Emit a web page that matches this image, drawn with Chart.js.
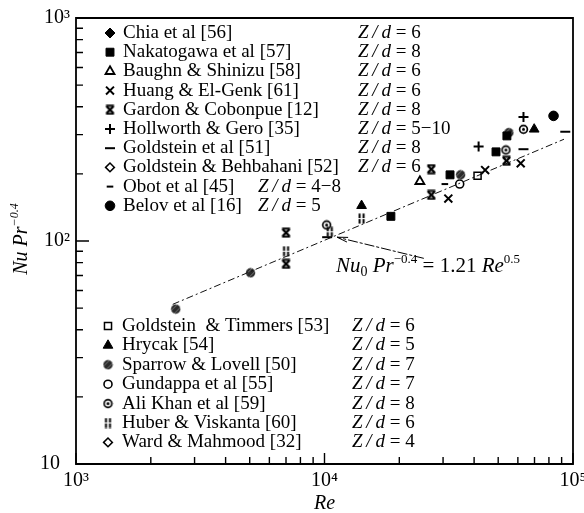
<!DOCTYPE html>
<html>
<head>
<meta charset="utf-8">
<script src="https://cdn.jsdelivr.net/npm/chart.js@4.4.1/dist/chart.umd.min.js"></script>
<style>
  html, body { margin: 0; padding: 0; background: #fff; }
  #chart { display: block; }
</style>
</head>
<body>
<canvas id="chart" width="584" height="513"></canvas>
<script>
const SERIF = '"Liberation Serif", "Times New Roman", "DejaVu Serif", serif';

// Axis ticks (log decades, minor ticks at 2..9)
const xTickValues = [1000, 2000, 3000, 4000, 5000, 6000, 7000, 8000, 9000,
  10000, 20000, 30000, 40000, 50000, 60000, 70000, 80000, 90000, 100000];
const xMajorTicks = [1000, 10000, 100000];
const xMajorLabels = ['10³', '10⁴', '10⁵'];
const yTickValues = [10, 20, 30, 40, 50, 60, 70, 80, 90,
  100, 200, 300, 400, 500, 600, 700, 800, 900, 1000];
const yMajorTicks = [10, 100, 1000];
const yMajorLabels = ['10\u2002', '10²', '10³'];

// Legend entries
const seriesNames = [
  'Chia et al [56]', 'Nakatogawa et al [57]', 'Baughn & Shinizu [58]', 'Huang & El-Genk [61]',
  'Gardon & Cobonpue [12]', 'Hollworth & Gero [35]', 'Goldstein et al [51]',
  'Goldstein & Behbahani [52]', 'Obot et al [45]', 'Belov et al [16]',
  'Goldstein  & Timmers [53]', 'Hrycak [54]', 'Sparrow & Lovell [50]', 'Gundappa et al [55]',
  'Ali Khan et al [59]', 'Huber & Viskanta [60]', 'Ward & Mahmood [32]'
];
const seriesZd = ['6', '8', '6', '6', '8', '5\u221210', '8', '6', '4\u22128', '5',
  '6', '5', '7', '7', '8', '6', '4'];

// Data: Re and Nu Pr^-0.4
const chiaRe = [];              const chiaNu = [];
const nakatogawaRe = [18500, 32000, 49000, 54200];  const nakatogawaNu = [129, 198, 251, 296];
const baughnRe = [24200];       const baughnNu = [185];
const huangRe = [31500, 44300, 61600];  const huangNu = [155, 208, 223];
const gardonRe = [7000, 7000, 26900, 26900, 54000];  const gardonNu = [79, 109, 161, 210, 229];
const hollworthRe = [41700, 63200];  const hollworthNu = [265, 360];
const goldsteinRe = [10250, 63200, 93100];  const goldsteinNu = [104, 258, 309];
const behbahaniRe = [];         const behbahaniNu = [];
const obotRe = [30500];         const obotNu = [180];
const belovRe = [83500];        const belovNu = [364];
const timmersRe = [41300];      const timmersNu = [196];
const hrycakRe = [14100, 69800];  const hrycakNu = [144, 317];
const sparrowRe = [2520, 5040, 35300, 55200];  const sparrowNu = [49.5, 72, 198, 306];
const gundappaRe = [35000];     const gundappaNu = [180];
const aliKhanRe = [10200, 53700, 63200];  const aliKhanNu = [118, 256, 317];
const huberRe = [7000, 10500, 14100];  const huberNu = [90, 110, 126];
const wardRe = [];              const wardNu = [];

// Correlation line Nu0 Pr^-0.4 = 1.21 Re^0.5 as drawn, and the arrow to it
const fitRe = [2450, 92000];    const fitNu = [52, 286];
const arrowRe = [11240, 25100]; const arrowNu = [104, 83.6];

const seriesData = [
  [chiaRe, chiaNu], [nakatogawaRe, nakatogawaNu], [baughnRe, baughnNu], [huangRe, huangNu],
  [gardonRe, gardonNu], [hollworthRe, hollworthNu], [goldsteinRe, goldsteinNu],
  [behbahaniRe, behbahaniNu], [obotRe, obotNu], [belovRe, belovNu],
  [timmersRe, timmersNu], [hrycakRe, hrycakNu], [sparrowRe, sparrowNu], [gundappaRe, gundappaNu],
  [aliKhanRe, aliKhanNu], [huberRe, huberNu], [wardRe, wardNu]
];

// small hand-made marker glyphs
function makeGlyph(w, h, draw) {
  const c = document.createElement('canvas');
  c.width = w; c.height = h;
  const g = c.getContext('2d');
  g.fillStyle = '#000'; g.strokeStyle = '#000';
  draw(g);
  return c;
}
const gardonGlyph = makeGlyph(11, 11, g => {
  g.lineWidth = 2.4;
  g.beginPath();
  g.moveTo(2, 2); g.lineTo(9, 9);
  g.moveTo(9, 2); g.lineTo(2, 9);
  g.stroke();
  g.lineWidth = 1.8;
  g.beginPath();
  g.moveTo(1.5, 1.5); g.lineTo(9.5, 1.5);
  g.moveTo(1.5, 9.5); g.lineTo(9.5, 9.5);
  g.stroke();
});
const aliKhanGlyph = makeGlyph(11, 11, g => {
  g.lineWidth = 1.7;
  g.beginPath(); g.arc(5.5, 5.5, 3.9, 0, Math.PI * 2); g.stroke();
  g.beginPath(); g.arc(5.5, 5.5, 1.5, 0, Math.PI * 2); g.fill();
});
const huberGlyph = makeGlyph(9, 11, g => {
  g.fillRect(1.5, 0.5, 2, 4.5); g.fillRect(5.5, 0.5, 2, 4.5);
  g.fillRect(1.5, 6, 2, 4.5);   g.fillRect(5.5, 6, 2, 4.5);
});
const sparrowGlyph = makeGlyph(11, 11, g => {
  g.fillStyle = '#2a2a2a';
  g.beginPath(); g.arc(5.5, 5.5, 4.7, 0, Math.PI * 2); g.fill();
  g.save(); g.clip();
  g.strokeStyle = '#8a8a8a'; g.lineWidth = 0.8;
  g.beginPath();
  g.moveTo(1, 7); g.lineTo(7, 1);
  g.moveTo(4, 10); g.lineTo(10, 4);
  g.stroke();
  g.restore();
});

const markers = [
  { pointStyle: 'rectRot', radius: 5, fill: '#000', width: 1 },
  { pointStyle: 'rect', radius: 5.6, fill: '#000', width: 1 },
  { pointStyle: 'triangle', radius: 5.2, fill: '#fff', width: 1.8 },
  { pointStyle: 'crossRot', radius: 5.6, fill: '#000', width: 2 },
  { pointStyle: gardonGlyph, radius: 5, fill: '#000', width: 1 },
  { pointStyle: 'cross', radius: 5, fill: '#000', width: 2 },
  { pointStyle: 'line', radius: 5, fill: '#000', width: 2 },
  { pointStyle: 'rectRot', radius: 4.4, fill: '#fff', width: 1.5 },
  { pointStyle: 'line', radius: 3.3, fill: '#000', width: 2 },
  { pointStyle: 'circle', radius: 4.8, fill: '#000', width: 1 },
  { pointStyle: 'rect', radius: 5, fill: '#fff', width: 1.5 },
  { pointStyle: 'triangle', radius: 5.6, fill: '#000', width: 1 },
  { pointStyle: sparrowGlyph, radius: 5, fill: '#000', width: 1 },
  { pointStyle: 'circle', radius: 4, fill: '#fff', width: 1.6 },
  { pointStyle: aliKhanGlyph, radius: 5, fill: '#000', width: 1 },
  { pointStyle: huberGlyph, radius: 5, fill: '#000', width: 1 },
  { pointStyle: 'rectRot', radius: 4.4, fill: '#fff', width: 1.5 }
];

const datasets = seriesData.map(([re, nu], i) => ({
  label: seriesNames[i],
  data: re.map((r, k) => ({ x: r, y: nu[k] })),
  pointStyle: markers[i].pointStyle,
  pointRadius: markers[i].radius,
  pointBackgroundColor: markers[i].fill,
  pointBorderColor: '#000',
  pointBorderWidth: markers[i].width,
  showLine: false
}));
datasets.unshift({
  label: 'fit',
  data: fitRe.map((r, k) => ({ x: r, y: fitNu[k] })),
  showLine: true,
  borderColor: '#111',
  borderWidth: 1,
  borderDash: [7, 3, 2, 3],
  pointRadius: 0
});

function setFont(ctx, size, italic) {
  ctx.font = (italic ? 'italic ' : '') + size + 'px ' + SERIF;
}
function richWidth(ctx, parts) {
  let w = 0;
  parts.forEach(p => { setFont(ctx, p.size, p.italic); w += ctx.measureText(p.t).width; });
  return w;
}
function drawRich(ctx, parts, x, y) {
  let cx = x;
  parts.forEach(p => {
    setFont(ctx, p.size, p.italic);
    ctx.fillText(p.t, cx, y + (p.dy || 0));
    cx += ctx.measureText(p.t).width;
  });
  return cx;
}
function drawMarker(ctx, i, x, y) {
  const m = markers[i];
  ctx.save();
  ctx.fillStyle = m.fill;
  ctx.strokeStyle = '#000';
  ctx.lineWidth = m.width;
  Chart.helpers.drawPoint(ctx, { pointStyle: m.pointStyle, radius: m.radius, rotation: 0, borderWidth: m.width }, x, y);
  ctx.restore();
}
function zdParts(v) {
  return [
    { t: 'Z', size: 19, italic: true },
    { t: '\u2009/\u2009', size: 19, italic: true },
    { t: 'd', size: 19, italic: true },
    { t: ' = ' + v, size: 19 }
  ];
}

const paperPlugin = {
  id: 'paper',
  beforeDatasetsDraw(chart) {
    const { ctx, chartArea: a, scales } = chart;
    ctx.save();
    ctx.strokeStyle = '#000';
    // inward tick marks
    ctx.lineWidth = 1.4;
    ctx.beginPath();
    scales.x.ticks.forEach(t => {
      const px = scales.x.getPixelForValue(t.value);
      const len = xMajorTicks.includes(t.value) ? 11 : 7;
      ctx.moveTo(px, a.bottom); ctx.lineTo(px, a.bottom - len);
    });
    scales.y.ticks.forEach(t => {
      const py = scales.y.getPixelForValue(t.value);
      const len = yMajorTicks.includes(t.value) ? 13 : 7;
      ctx.moveTo(a.left, py); ctx.lineTo(a.left + len, py);
    });
    ctx.stroke();
    ctx.restore();
  },
  afterDraw(chart) {
    const { ctx, scales } = chart;
    const left = scales.x.left, right = scales.x.right;
    const top = scales.y.top, bottom = scales.y.bottom;
    ctx.save();
    ctx.fillStyle = '#000';
    ctx.strokeStyle = '#000';
    ctx.setLineDash([]);

    // frame around the plot
    ctx.lineWidth = 1.8;
    ctx.beginPath();
    ctx.moveTo(left, top);
    ctx.lineTo(left, bottom);
    ctx.lineTo(right, bottom);
    ctx.lineTo(right, top);
    ctx.closePath();
    ctx.stroke();

    // legends
    ctx.textBaseline = 'middle';
    for (let i = 0; i < 10; i++) {
      const y = 33 + i * 19.2;
      drawMarker(ctx, i, 110, y);
      setFont(ctx, 19, false);
      ctx.fillText(seriesNames[i], 123, y);
      const zx = (i === 8 || i === 9) ? 258 : 358;
      drawRich(ctx, zdParts(seriesZd[i]), zx, y);
    }
    for (let i = 10; i < 17; i++) {
      const y = 326 + (i - 10) * 19.4;
      drawMarker(ctx, i, 108, y);
      setFont(ctx, 19, false);
      ctx.fillText(seriesNames[i], 122, y);
      drawRich(ctx, zdParts(seriesZd[i]), 352, y);
    }

    // arrow pointing at the correlation line
    const x0 = scales.x.getPixelForValue(arrowRe[1]), y0 = scales.y.getPixelForValue(arrowNu[1]);
    const x1 = scales.x.getPixelForValue(arrowRe[0]), y1 = scales.y.getPixelForValue(arrowNu[0]);
    ctx.lineWidth = 1;
    ctx.setLineDash([10, 2, 3, 2]);
    ctx.beginPath(); ctx.moveTo(x0, y0); ctx.lineTo(x1, y1); ctx.stroke();
    ctx.setLineDash([]);
    const ang = Math.atan2(y1 - y0, x1 - x0);
    ctx.beginPath();
    ctx.moveTo(x1, y1);
    ctx.lineTo(x1 - 11 * Math.cos(ang - 0.22), y1 - 11 * Math.sin(ang - 0.22));
    ctx.moveTo(x1, y1);
    ctx.lineTo(x1 - 11 * Math.cos(ang + 0.22), y1 - 11 * Math.sin(ang + 0.22));
    ctx.stroke();

    // equation label
    ctx.textBaseline = 'alphabetic';
    drawRich(ctx, [
      { t: 'Nu', size: 21, italic: true },
      { t: '0', size: 14, dy: 4 },
      { t: ' Pr', size: 21, italic: true },
      { t: '\u22120.4', size: 13, dy: -9 },
      { t: ' = 1.21 ', size: 21 },
      { t: 'Re', size: 21, italic: true },
      { t: '0.5', size: 13, dy: -9 }
    ], 336, 272);

    // y-axis title (rotated)
    const yTitle = [
      { t: 'Nu', size: 20, italic: true },
      { t: ' Pr', size: 20, italic: true },
      { t: '\u22120.4', size: 12, italic: true, dy: -9 }
    ];
    const w = richWidth(ctx, yTitle);
    ctx.translate(27, 239);
    ctx.rotate(-Math.PI / 2);
    drawRich(ctx, yTitle, -w / 2, 0);
    ctx.restore();
  }
};

new Chart(document.getElementById('chart'), {
  type: 'scatter',
  data: { datasets },
  options: {
    responsive: false,
    animation: false,
    events: [],
    layout: { padding: { top: 18, right: 11, left: 0, bottom: 0 } },
    plugins: { legend: { display: false }, tooltip: { enabled: false } },
    scales: {
      x: {
        type: 'logarithmic',
        position: 'bottom',
        min: 1000,
        max: 100000,
        grid: { display: false, drawTicks: false },
        border: { display: false },
        afterBuildTicks: scale => { scale.ticks = xTickValues.map(v => ({ value: v })); },
        afterFit: scale => { scale.height = 49; scale.paddingLeft = 0; scale.paddingRight = 0; },
        ticks: {
          autoSkip: false,
          maxRotation: 0,
          padding: 5,
          color: '#000',
          font: { family: SERIF, size: 20 },
          callback: v => { const k = xMajorTicks.indexOf(v); return k >= 0 ? xMajorLabels[k] : ''; }
        },
        title: {
          display: true,
          text: 'Re',
          color: '#000',
          padding: { top: 0, bottom: 0 },
          font: { family: SERIF, size: 20, style: 'italic', lineHeight: 0.9 }
        }
      },
      y: {
        type: 'logarithmic',
        position: 'left',
        min: 10,
        max: 1000,
        grid: { display: false, drawTicks: false },
        border: { display: false },
        afterBuildTicks: scale => { scale.ticks = yTickValues.map(v => ({ value: v })); },
        afterFit: scale => { scale.width = 76; scale.paddingTop = 0; scale.paddingBottom = 0; },
        ticks: {
          autoSkip: false,
          padding: 6,
          color: '#000',
          font: { family: SERIF, size: 20 },
          callback: v => { const k = yMajorTicks.indexOf(v); return k >= 0 ? yMajorLabels[k] : ''; }
        }
      }
    }
  },
  plugins: [paperPlugin]
});
</script>
</body>
</html>
